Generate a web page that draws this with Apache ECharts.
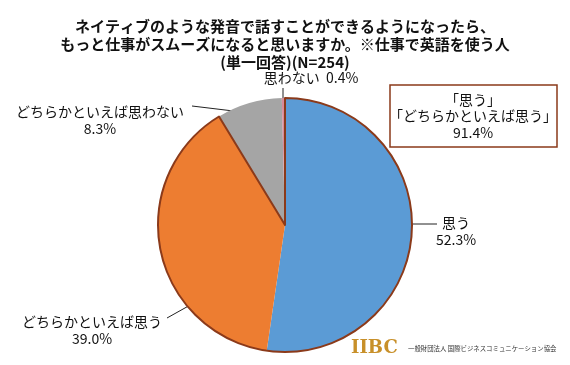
<!DOCTYPE html>
<html><head><meta charset="utf-8">
<script src="https://cdn.jsdelivr.net/npm/echarts@6/dist/echarts.min.js"></script>
<style>html,body{margin:0;padding:0;background:#fff}#c{width:570px;height:365px}</style>
</head><body><div id="c"></div>
<script>
var titleLines = ['ネイティブのような発音で話すことができるようになったら、','もっと仕事がスムーズになると思いますか。※仕事で英語を使う人','(単一回答)(N=254)'];
var categories = ['思う','どちらかといえば思う','どちらかといえば思わない','思わない'];
var values = [52.3, 39.0, 8.3, 0.4];
var colors = ['#5B9BD5','#ED7D31','#A5A5A5','#D98A9A'];
var boxLines = ['「思う」','「どちらかといえば思う」','91.4%'];
var FONT = '"Noto Sans CJK JP", "Noto Sans", sans-serif';
// label layout (text centre, leader line start inside slice, leader line end)
var labelPos = [[456,231],[92,330],[100,120],[311,78]];
var leaderLines = [
  [[395,224],[437,224]],
  [[201,299],[167,318]],
  [[250,113],[192,106]],
  [[283,102],[283,88]]
];

var chart = echarts.init(document.getElementById('c'), null, {renderer:'canvas'});
var data = categories.map(function(c,i){return {name:c, value:values[i], itemStyle:{color:colors[i]}};});
var agreeSum = values[0] + values[1];
var restSum = values[2] + values[3];
chart.setOption({
  animation:false,
  title:{text:titleLines.join('\n'), left:'center', top:12, textStyle:{fontFamily:FONT, fontWeight:'bold', fontSize:15, lineHeight:18, color:'#111'}},
  series:[{
    type:'pie', center:[285,225], radius:127, startAngle:90, clockwise:true,
    avoidLabelOverlap:false, silent:true,
    data:data,
    itemStyle:{borderWidth:0},
    label:{show:true, position:'outside', fontFamily:FONT, fontSize:14, lineHeight:17, color:'#111', align:'center',
      formatter:function(p){ return p.dataIndex===3 ? p.name+'  '+p.value.toFixed(1)+'%' : p.name+'\n'+p.value.toFixed(1)+'%'; }},
    labelLine:{show:true, length:10, length2:20, smooth:false, lineStyle:{color:'#222', width:1}},
    labelLayout:function(p){
      var pos = labelPos[p.dataIndex];
      return {x:pos[0], y:pos[1], align:'center', verticalAlign:'middle', labelLinePoints:leaderLines[p.dataIndex].concat([leaderLines[p.dataIndex][1]])};
    }
  },{
    type:'pie', center:[285,225], radius:127, startAngle:90, clockwise:true, silent:true, z:5,
    label:{show:false}, labelLine:{show:false},
    data:[{value:agreeSum, itemStyle:{color:'rgba(0,0,0,0)', borderColor:'#8B3A1A', borderWidth:2}},
          {value:restSum, itemStyle:{color:'rgba(0,0,0,0)', borderWidth:0}}]
  }],
  graphic:[
    {type:'rect', shape:{x:390, y:85, width:167, height:62}, style:{fill:'#fff', stroke:'#8B3A1A', lineWidth:1.5}},
    {type:'text', x:473, y:116, style:{text:boxLines.join('\n'), font:'14px '+FONT, lineHeight:16.5, fill:'#111', align:'center', verticalAlign:'middle'}},
    {type:'text', x:351, y:348, style:{text:'IIBC', font:'bold 18px "DejaVu Serif", serif', fill:'#C8902A', verticalAlign:'middle'}},
    {type:'text', x:408, y:349, style:{text:'一般財団法人 国際ビジネスコミュニケーション協会', font:'6.4px '+FONT, fill:'#333', verticalAlign:'middle'}}
  ]
});
</script></body></html>
